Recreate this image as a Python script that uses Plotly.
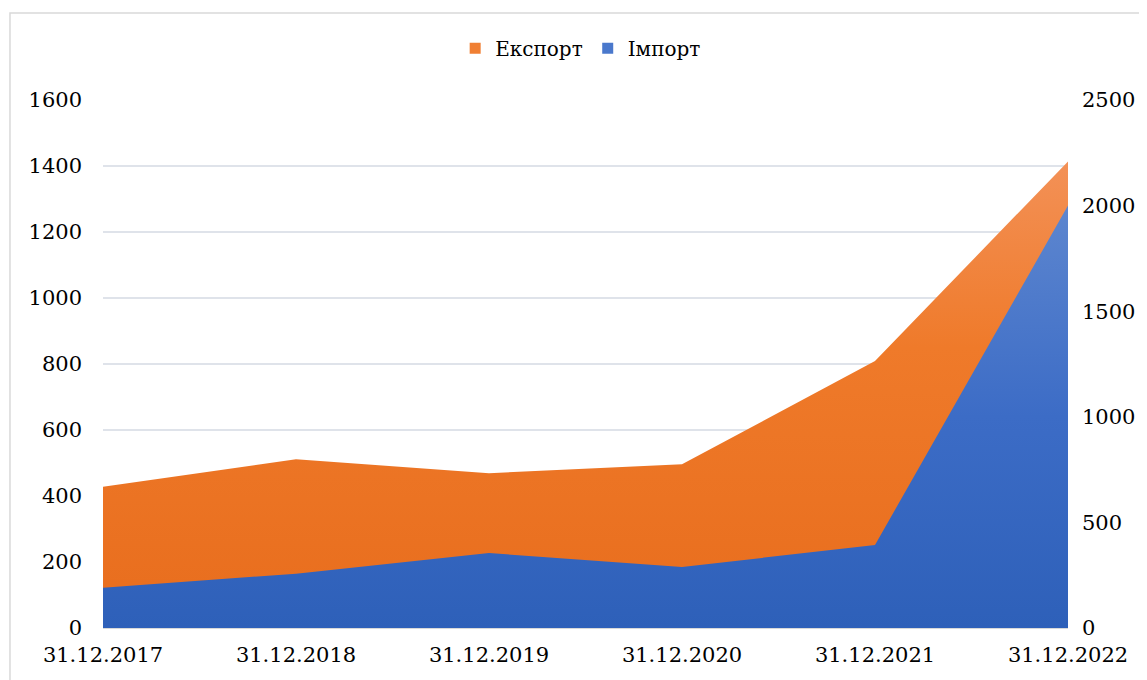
import plotly.graph_objects as go

categories = ["31.12.2017", "31.12.2018", "31.12.2019", "31.12.2020", "31.12.2021", "31.12.2022"]
export_values = [428, 511, 469, 496, 809, 1414]
import_values = [191, 257, 355, 289, 393, 2000]
left_ticks = [0, 200, 400, 600, 800, 1000, 1200, 1400, 1600]
right_ticks = [0, 500, 1000, 1500, 2000, 2500]

FONT = "DejaVu Serif"
ORANGE = "#ed7d31"
BLUE = "#4472c4"

fig = go.Figure()
fig.add_trace(go.Scatter(
    x=categories, y=export_values, name="Експорт", mode="none",
    fill="tozeroy",
    fillgradient=dict(type="vertical", colorscale=[[0, "#e86d1d"], [0.6, "#ef7a2a"], [1, "#f39157"]],
                      start=0, stop=max(export_values)),
    fillcolor=ORANGE, yaxis="y", showlegend=False,
))
fig.add_trace(go.Scatter(
    x=categories, y=import_values, name="Імпорт", mode="none",
    fill="tozeroy",
    fillgradient=dict(type="vertical", colorscale=[[0, "#2e60b9"], [0.5, "#3c6cc6"], [1, "#5d86cf"]],
                      start=0, stop=max(import_values)),
    fillcolor=BLUE, yaxis="y2", showlegend=False,
))
# legend entries with square swatches
fig.add_trace(go.Scatter(x=[None], y=[None], mode="markers", name="Експорт",
                         marker=dict(symbol="square", size=11, color="#f07f33")))
fig.add_trace(go.Scatter(x=[None], y=[None], mode="markers", name="Імпорт",
                         marker=dict(symbol="square", size=11, color="#4a78cc")))

fig.update_layout(
    width=1147, height=680,
    margin=dict(l=95, r=87, t=92, b=60),
    paper_bgcolor="white", plot_bgcolor="white",
    font=dict(family=FONT, size=21, color="#000000"),
    showlegend=True,
    legend=dict(orientation="h", x=0.495, xanchor="center", y=1.098, yanchor="middle",
                font=dict(family=FONT, size=20), traceorder="normal",
                itemwidth=30, bgcolor="rgba(0,0,0,0)"),
    xaxis=dict(type="category", range=[0, 5], showgrid=False, showline=True,
               linecolor="#d9d9d9", ticks="", tickfont=dict(size=21), zeroline=False,
               ticklabelstandoff=8),
    yaxis=dict(range=[0, 1600], tickvals=left_ticks, showgrid=True, gridcolor="#dfe3ea",
               gridwidth=1.5, zeroline=False, ticks="", showline=False,
               tickfont=dict(size=21), ticklabelstandoff=20),
    yaxis2=dict(range=[0, 2500], tickvals=right_ticks, overlaying="y", side="right",
                showgrid=False, zeroline=False, ticks="", showline=False,
                tickfont=dict(size=21), ticklabelstandoff=13),
)

fig.add_shape(type="rect", xref="paper", yref="paper",
              x0=-0.0964, x1=1.3, y0=-0.3, y1=1.1648,
              line=dict(color="#d9d9d9", width=1.5), fillcolor="rgba(0,0,0,0)", layer="below")

fig.write_html("out.html")
